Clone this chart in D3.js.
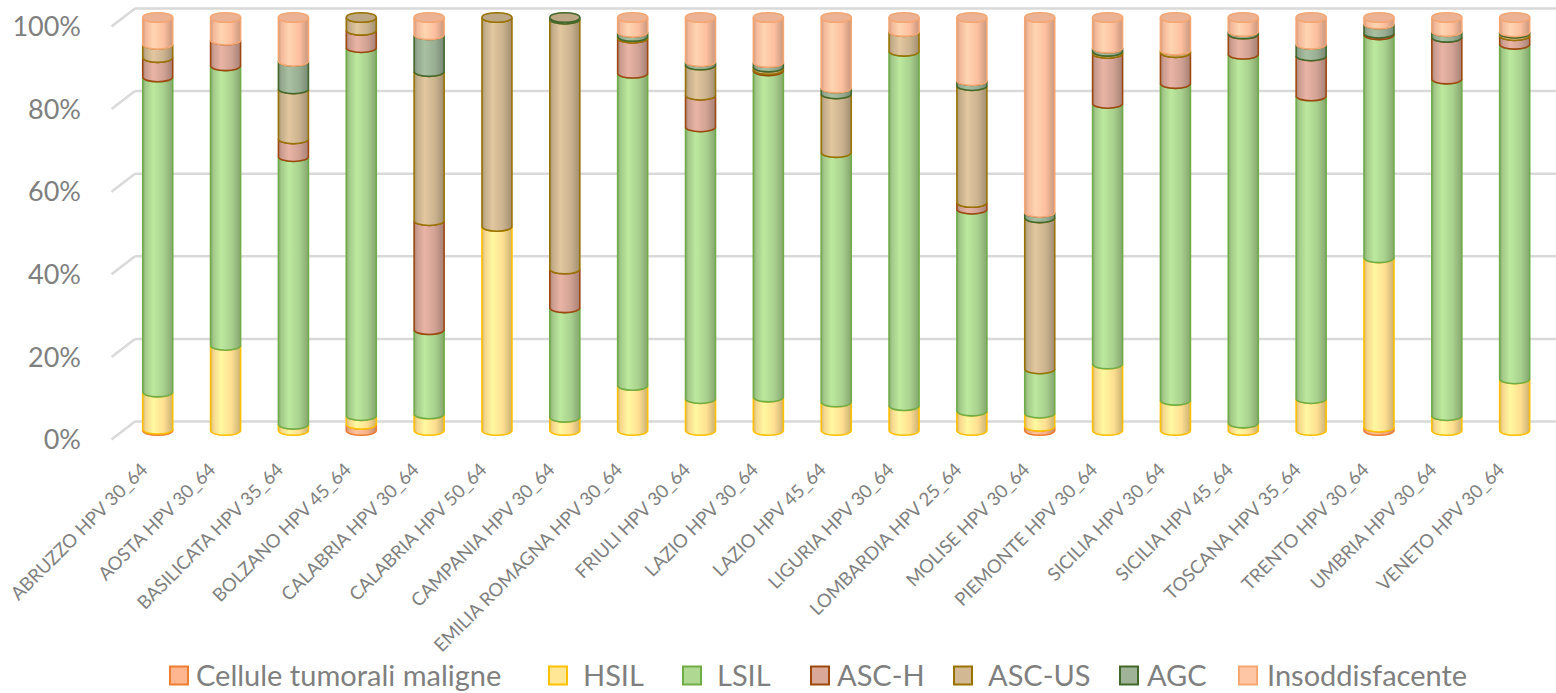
<!DOCTYPE html>
<html>
<head>
<meta charset="utf-8">
<script src="https://cdn.jsdelivr.net/npm/d3@7"></script>
<style>
  body { margin: 0; background: #fff; }
  svg text { font-family: Lato, "Open Sans", sans-serif; fill: #7f7f7f; }
</style>
</head>
<body>
<svg id="chart" width="1556" height="693"></svg>
<script>
// categories (x axis)
var categories = ["ABRUZZO HPV 30_64", "AOSTA HPV 30_64", "BASILICATA HPV 35_64", "BOLZANO HPV 45_64",
  "CALABRIA HPV 30_64", "CALABRIA HPV 50_64", "CAMPANIA HPV 30_64", "EMILIA ROMAGNA HPV 30_64",
  "FRIULI HPV 30_64", "LAZIO HPV 30_64", "LAZIO HPV 45_64", "LIGURIA HPV 30_64", "LOMBARDIA HPV 25_64",
  "MOLISE HPV 30_64", "PIEMONTE HPV 30_64", "SICILIA HPV 30_64", "SICILIA HPV 45_64", "TOSCANA HPV 35_64",
  "TRENTO HPV 30_64", "UMBRIA HPV 30_64", "VENETO HPV 30_64"];

// series values (% of each bar)
var cellule = [0.3, 0, 0, 1.5, 0, 0, 0, 0, 0, 0, 0, 0, 0, 1.0, 0, 0, 0, 0, 0.8, 0, 0];
var hsil    = [9.0, 20.6, 1.5, 2.1, 4.0, 49.4, 3.2, 10.9, 7.7, 8.1, 6.9, 6.0, 4.7, 3.2, 16.1, 7.3, 1.8, 7.7, 41.0, 3.6, 12.5];
var lsil    = [76.3, 67.7, 64.8, 89.1, 20.4, 0, 26.5, 75.6, 65.8, 79.0, 60.4, 85.8, 48.9, 10.7, 63.1, 76.7, 89.3, 73.3, 54.0, 81.5, 81.0];
var asch    = [4.7, 6.2, 4.3, 4.2, 26.4, 0, 9.4, 8.5, 7.7, 0.3, 0, 0, 1.6, 0, 12.1, 7.5, 4.9, 9.7, 0.4, 10.1, 2.1];
var ascus   = [3.2, 0, 12.1, 3.1, 36.1, 50.6, 60.5, 0.4, 7.3, 0.6, 14.2, 4.8, 28.3, 36.6, 0.5, 0.6, 0, 0, 0, 0, 0.6];
var agc     = [0, 0, 6.7, 0, 8.9, 0, 0.4, 1.0, 0.8, 1.1, 1.4, 0, 1.2, 1.3, 0.8, 0, 0.6, 2.8, 2.2, 1.4, 0.3];
var insodd  = [6.5, 5.5, 10.6, 0, 4.2, 0, 0, 3.6, 10.7, 10.9, 17.1, 3.4, 15.3, 47.2, 7.4, 7.9, 3.4, 6.5, 1.6, 3.4, 3.5];

var seriesNames = ["Cellule tumorali maligne", "HSIL", "LSIL", "ASC-H", "ASC-US", "AGC", "Insoddisfacente"];
var seriesValues = [cellule, hsil, lsil, asch, ascus, agc, insodd];
var yTicks = [0, 0.2, 0.4, 0.6, 0.8, 1];

// fill / border colours per series
var fills   = ["#f5b08c", "#ffdf91", "#a9d18e", "#d1a294", "#cbb38f", "#98ad92", "#fcbf9f"];
var borders = ["#ed7d31", "#ffc000", "#70ad47", "#9e480e", "#997300", "#43682b", "#f4a673"];

var W = 1556, H = 693;
var svg = d3.select("#chart");

// depth offset of the 3D box
var dx = 23.5, dy = 18;
var wallLeft = 135;

// back wall scale, bars sit half way into the depth
var yBack = d3.scaleLinear().domain([0, 1]).range([421.5, 8.5]);
var yBar = function(v) { return yBack(v) + dy / 2; };

var x = d3.scaleBand().domain(categories).range([123.8, 1548.6]).padding(0);
var barW = 30, ry = 4.8;

// table for the stack
var table = categories.map(function(c, i) {
  var row = {cat: c};
  seriesNames.forEach(function(s, j) { row[s] = seriesValues[j][i]; });
  return row;
});
var stack = d3.stack().keys(seriesNames).offset(d3.stackOffsetExpand);
var layers = stack(table);

// gradients
var defs = svg.append("defs");
fills.forEach(function(f, i) {
  var c = d3.color(f);
  var g = defs.append("linearGradient").attr("id", "grad" + i)
    .attr("x1", 0).attr("x2", 1).attr("y1", 0).attr("y2", 0);
  g.append("stop").attr("offset", "0%").attr("stop-color", c.darker(0.6));
  g.append("stop").attr("offset", "10%").attr("stop-color", c.darker(0.1));
  g.append("stop").attr("offset", "35%").attr("stop-color", c.brighter(0.3));
  g.append("stop").attr("offset", "70%").attr("stop-color", c);
  g.append("stop").attr("offset", "100%").attr("stop-color", c.darker(0.65));
});

// gridlines on the back wall + left diagonal ticks
var grid = svg.append("g");
yTicks.forEach(function(t) {
  var yb = yBack(t);
  grid.append("line").attr("x1", wallLeft).attr("x2", W).attr("y1", yb).attr("y2", yb)
    .attr("stroke", "#d9d9d9").attr("stroke-width", 2.5);
  grid.append("line").attr("x1", wallLeft - dx).attr("y1", yb + dy).attr("x2", wallLeft).attr("y2", yb)
    .attr("stroke", "#d9d9d9").attr("stroke-width", 2.5);
});

// y axis labels
svg.append("g").selectAll("text").data(yTicks).enter().append("text")
  .attr("x", 81).attr("y", function(d) { return yBack(d) + dy; })
  .attr("dy", "0.36em")
  .attr("text-anchor", "end")
  .style("font-size", "27px")
  .text(d3.format(".0%"));

// cylinder segments
function segPath(cx, yt, yb) {
  var x0 = cx - barW / 2, x1 = cx + barW / 2, rx = barW / 2;
  return "M" + x0 + "," + yt +
    "A" + rx + "," + ry + " 0 0 0 " + x1 + "," + yt +
    "L" + x1 + "," + yb +
    "A" + rx + "," + ry + " 0 0 1 " + x0 + "," + yb + "Z";
}

var bars = svg.append("g");
layers.forEach(function(layer, i) {
  bars.append("g").selectAll("path").data(layer.filter(function(d) { return d[1] - d[0] > 0.0004; }))
    .enter().append("path")
    .attr("d", function(d) {
      var cx = x(d.data.cat) + x.bandwidth() / 2;
      return segPath(cx, yBar(d[1]), yBar(d[0]));
    })
    .attr("fill", "url(#grad" + i + ")")
    .attr("stroke", borders[i])
    .attr("stroke-width", 1.6);
});

// top face of each cylinder: outline from topmost series, face from the topmost visible one
categories.forEach(function(c, k) {
  var top = 0, face = 0;
  seriesValues.forEach(function(v, j) {
    if (v[k] > 0) top = j;
    if (v[k] >= 1) face = j;
  });
  var cx = x(c) + x.bandwidth() / 2;
  bars.append("ellipse").attr("cx", cx).attr("cy", yBar(1))
    .attr("rx", barW / 2).attr("ry", ry)
    .attr("fill", d3.color(fills[face]).darker(0.2))
    .attr("stroke", borders[top]).attr("stroke-width", 1.6);
});

// x axis labels
svg.append("g").selectAll("text").data(categories).enter().append("text")
  .attr("transform", function(d) {
    return "translate(" + (x(d) + x.bandwidth() / 2 - 9) + ",471) rotate(-45)";
  })
  .attr("text-anchor", "end")
  .style("font-size", "18.5px")
  .text(function(d) { return d; });

// legend
var legX = [170, 549, 683, 811, 954, 1120, 1239];
var legTextX = [196, 583, 717, 837, 988, 1147, 1267];
var leg = svg.append("g");
seriesNames.forEach(function(s, i) {
  leg.append("rect").attr("x", legX[i]).attr("y", 666.5).attr("width", 18).attr("height", 18)
    .attr("fill", d3.color(fills[i]).brighter(0.1)).attr("stroke", borders[i]).attr("stroke-width", 2);
  leg.append("text").attr("x", legTextX[i]).attr("y", 675.5).attr("dy", "0.35em")
    .style("font-size", "29px").text(s);
});
</script>
</body>
</html>
